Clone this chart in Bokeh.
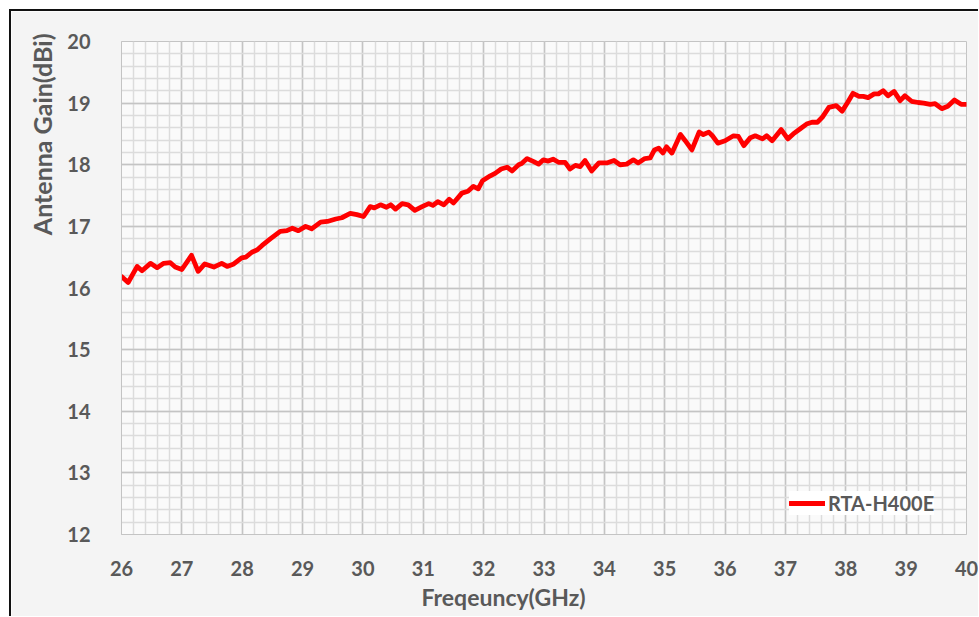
from bokeh.plotting import figure
from bokeh.models import Range1d, SingleIntervalTicker, Legend, LegendItem, Title
from bokeh.embed import file_html
from bokeh.resources import INLINE

freq = [26.01, 26.11, 26.26, 26.34, 26.48, 26.59, 26.70, 26.81, 26.89, 27.00,
        27.16, 27.27, 27.38, 27.53, 27.66, 27.75, 27.86, 27.99, 28.06, 28.16,
        28.25, 28.33, 28.47, 28.63, 28.74, 28.83, 28.93, 29.05, 29.15, 29.30,
        29.41, 29.55, 29.65, 29.79, 29.90, 30.01, 30.12, 30.19, 30.29, 30.39,
        30.46, 30.54, 30.65, 30.75, 30.86, 30.98, 31.09, 31.16, 31.24, 31.34,
        31.43, 31.50, 31.64, 31.74, 31.83, 31.91, 31.98, 32.11, 32.19, 32.29,
        32.39, 32.47, 32.58, 32.63, 32.72, 32.83, 32.91, 32.99, 33.07, 33.15,
        33.24, 33.35, 33.43, 33.52, 33.60, 33.68, 33.79, 33.91, 34.04, 34.16,
        34.26, 34.37, 34.48, 34.56, 34.67, 34.76, 34.83, 34.90, 34.97, 35.03,
        35.12, 35.26, 35.34, 35.45, 35.57, 35.64, 35.73, 35.79, 35.88, 36.00,
        36.14, 36.22, 36.31, 36.42, 36.50, 36.62, 36.69, 36.78, 36.93, 37.04,
        37.13, 37.24, 37.35, 37.44, 37.53, 37.61, 37.72, 37.84, 37.94, 38.03,
        38.12, 38.22, 38.29, 38.37, 38.47, 38.54, 38.62, 38.70, 38.80, 38.90,
        38.98, 39.09, 39.20, 39.29, 39.40, 39.48, 39.59, 39.69, 39.80, 39.91,
        39.99]
gain = [16.18, 16.09, 16.35, 16.28, 16.40, 16.33, 16.40, 16.41, 16.34, 16.30,
        16.53, 16.27, 16.39, 16.34, 16.40, 16.35, 16.39, 16.49, 16.50, 16.58,
        16.62, 16.69, 16.80, 16.92, 16.93, 16.97, 16.93, 17.00, 16.96, 17.07,
        17.08, 17.12, 17.14, 17.21, 17.19, 17.16, 17.32, 17.30, 17.35, 17.31,
        17.35, 17.28, 17.37, 17.35, 17.26, 17.32, 17.37, 17.34, 17.40, 17.35,
        17.44, 17.38, 17.54, 17.57, 17.65, 17.61, 17.74, 17.82, 17.86, 17.93,
        17.96, 17.90, 18.00, 18.02, 18.10, 18.05, 18.01, 18.08, 18.06, 18.09,
        18.04, 18.04, 17.93, 17.99, 17.97, 18.07, 17.90, 18.03, 18.03, 18.07,
        18.00, 18.01, 18.08, 18.03, 18.10, 18.11, 18.24, 18.27, 18.19, 18.29,
        18.19, 18.49, 18.39, 18.24, 18.53, 18.49, 18.53, 18.47, 18.35, 18.39,
        18.47, 18.46, 18.31, 18.44, 18.47, 18.42, 18.47, 18.39, 18.57, 18.42,
        18.50, 18.58, 18.66, 18.69, 18.69, 18.77, 18.93, 18.96, 18.87, 19.01,
        19.16, 19.11, 19.11, 19.09, 19.15, 19.15, 19.20, 19.12, 19.19, 19.04,
        19.12, 19.03, 19.01, 19.00, 18.98, 18.99, 18.91, 18.95, 19.05, 18.98,
        18.98]

series_name = "RTA-H400E"
x_title = "Freqeuncy(GHz)"
y_title = "Antenna Gain(dBi)"

FONT = "Lato"
TXT = "#595959"

p = figure(
    frame_width=845, frame_height=493,
    min_border_left=110, min_border_right=12, min_border_top=30, min_border_bottom=82,
    x_range=Range1d(26, 40), y_range=Range1d(12, 20),
    output_backend="svg", toolbar_location=None,
    background_fill_color="#fafafa", border_fill_color="#f4f4f4",
    styles={"margin-left": "9px", "margin-top": "9px",
            "border-left": "2px solid #111111", "border-top": "2px solid #111111"},
)
p.outline_line_color = "#c4c4c4"

p.xaxis.ticker = SingleIntervalTicker(interval=1, num_minor_ticks=5)
p.yaxis.ticker = SingleIntervalTicker(interval=1, num_minor_ticks=5)

for ax in (p.xaxis, p.yaxis):
    ax.major_tick_line_color = None
    ax.minor_tick_line_color = None
    ax.major_tick_out = 0
    ax.major_tick_in = 0
    ax.axis_line_color = "#c4c4c4"
    ax.major_label_text_font = FONT
    ax.major_label_text_font_style = "bold"
    ax.major_label_text_font_size = "20px"
    ax.major_label_text_color = TXT
p.yaxis.major_label_standoff = 27
p.xaxis.major_label_standoff = 22

for g in (p.xgrid, p.ygrid):
    g.grid_line_color = "#c4c4c4"
    g.grid_line_width = 1.5
    g.minor_grid_line_color = "#dcdcdc"
    g.minor_grid_line_width = 1.5

r = p.line(freq, gain, line_color="#ff0000", line_width=4.8,
           line_join="round", line_cap="round")

legend = Legend(items=[LegendItem(label=series_name, renderers=[r])],
                location=(668, 19), orientation="vertical",
                background_fill_color="white", background_fill_alpha=1.0,
                border_line_color=None, padding=16, margin=0,
                glyph_width=36, glyph_height=10, label_height=10,
                label_standoff=3, label_text_font=FONT,
                label_text_font_style="bold", label_text_font_size="20px",
                label_text_color=TXT)
p.add_layout(legend, "center")

p.add_layout(Title(text=y_title, align="right", offset=-8, standoff=16,
                   text_font=FONT, text_font_style="bold",
                   text_font_size="25px", text_color=TXT), "left")
p.add_layout(Title(text=x_title, align="left", offset=300, standoff=4,
                   text_font=FONT, text_font_style="bold",
                   text_font_size="23px", text_color=TXT), "below")

open("out.html", "w").write(file_html(p, INLINE))
